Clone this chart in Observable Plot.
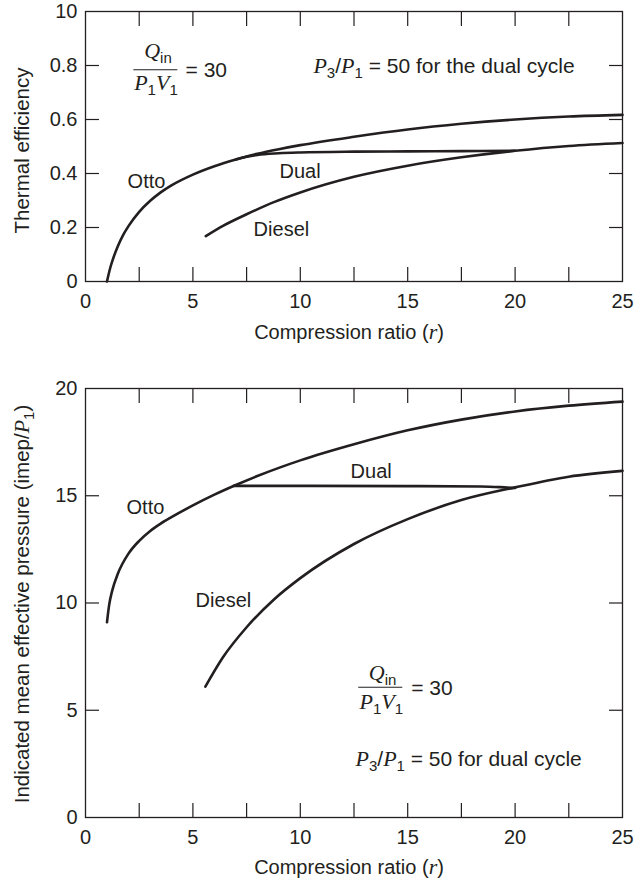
<!DOCTYPE html>
<html>
<head>
<meta charset="utf-8">
<script src="https://cdn.jsdelivr.net/npm/d3@7"></script>
<script src="https://cdn.jsdelivr.net/npm/@observablehq/plot@0.6"></script>
<style>
  html, body { margin: 0; padding: 0; background: #fff; }
  #chart svg { display: block; overflow: visible; }
</style>
</head>
<body>
<div id="chart"></div>
<script>
// ---------- data ----------
const ink = "#231f20";

const xLabelTicks = [0, 5, 10, 15, 20, 25];
const xInnerTicks = [2.5, 5, 7.5, 10, 12.5, 15, 17.5, 20, 22.5];

const effTicks = [0, 0.2, 0.4, 0.6, 0.8, 1];
const effTickLabels = ["0", "0.2", "0.4", "0.6", "0.8", "10"];
const effInnerTicks = [0.2, 0.4, 0.6, 0.8];

const imepTicks = [0, 5, 10, 15, 20];
const imepTickLabels = ["0", "5", "10", "15", "20"];
const imepInnerTicks = [5, 10, 15];

// Thermal efficiency
const ottoEffR = [1, 1.15, 1.3, 1.5, 1.75, 2, 2.5, 3, 3.5, 4, 5, 6, 7, 8, 9, 10, 12.5, 15, 17.5, 20, 22.5, 25];
const ottoEff  = [0, 0.05, 0.088, 0.13, 0.172, 0.205, 0.258, 0.298, 0.33, 0.356, 0.396, 0.427, 0.452, 0.473, 0.49, 0.505, 0.536, 0.563, 0.584, 0.6, 0.611, 0.617];
const dualEffR = [7, 7.5, 8, 9, 10, 12.5, 15, 17.5, 20];
const dualEff  = [0.452, 0.462, 0.469, 0.475, 0.478, 0.481, 0.482, 0.483, 0.484];
const dieselEffR = [5.6, 6.4, 7.5, 8.8, 10, 12.5, 15, 17.5, 20, 22.5, 25];
const dieselEff  = [0.168, 0.206, 0.249, 0.295, 0.33, 0.388, 0.429, 0.46, 0.484, 0.502, 0.513];

// Indicated mean effective pressure (imep/P1)
const ottoImepR = [1, 1.1, 1.25, 1.5, 2, 2.5, 3, 3.5, 4, 5, 6, 7, 8, 9, 10, 12.5, 15, 17.5, 20, 22.5, 25];
const ottoImep  = [9.1, 9.9, 10.6, 11.35, 12.3, 12.9, 13.35, 13.7, 14.0, 14.55, 15.05, 15.5, 15.92, 16.3, 16.65, 17.4, 18.05, 18.55, 18.93, 19.2, 19.39];
const dualImepR = [6.9, 10, 15, 18.4, 19.3, 20];
const dualImep  = [15.46, 15.46, 15.45, 15.43, 15.4, 15.36];
const dieselImepR = [5.58, 6.4, 7.5, 8.8, 10, 12.5, 15, 17.5, 20, 22.5, 25];
const dieselImep  = [6.1, 7.47, 8.87, 10.19, 11.16, 12.75, 13.91, 14.8, 15.39, 15.89, 16.16];

// curve labels and notes (data coordinates)
const effCurveLabels = [
  {t: "Otto", x: 2.84, y: 0.348},
  {t: "Dual", x: 9.99, y: 0.385},
  {t: "Diesel", x: 9.12, y: 0.170}
];
const effNotesCentered = [
  {t: "Qin", x: 3.375, y: 0.829},
  {t: "P1V1", x: 3.28, y: 0.708}
];
const effNotesStart = [
  {t: "= 30", x: 4.66, y: 0.759},
  {t: "P3/P1 = 50 for the dual cycle", x: 10.61, y: 0.771}
];
const effBars = [{y: 0.784, x1: 2.25, x2: 4.3}];

const imepCurveLabels = [
  {t: "Otto", x: 2.79, y: 14.17},
  {t: "Dual", x: 13.3, y: 15.84},
  {t: "Diesel", x: 6.42, y: 9.83}
];
const imepNotesCentered = [
  {t: "Qin", x: 13.83, y: 6.43},
  {t: "P1V1", x: 13.77, y: 5.07}
];
const imepNotesStart = [
  {t: "= 30", x: 15.16, y: 5.73},
  {t: "P3/P1 = 50 for dual cycle", x: 12.57, y: 2.42}
];
const imepBars = [{y: 6.07, x1: 12.72, x2: 14.77}];

const xTitle = "Compression ratio (r)";
const effTitle = "Thermal efficiency";
const imepTitle = "Indicated mean effective pressure (imep/P1)";

// rich-text specs: [text, kind]
const rich = {
  "Compression ratio (r)": [["Compression ratio ("], ["r", "it"], [")"]],
  "Indicated mean effective pressure (imep/P1)": [["Indicated mean effective pressure (imep/"], ["P", "it"], ["1", "sub"], [")"]],
  "Qin": [["Q", "it"], ["in", "sub"]],
  "P1V1": [["P", "it"], ["1", "sub"], ["V", "it"], ["1", "sub"]],
  "P3/P1 = 50 for the dual cycle": [["P", "it"], ["3", "sub"], ["/"], ["P", "it"], ["1", "sub"], [" = 50 for the dual cycle"]],
  "P3/P1 = 50 for dual cycle": [["P", "it"], ["3", "sub"], ["/"], ["P", "it"], ["1", "sub"], [" = 50 for dual cycle"]]
};

// ---------- drawing ----------
const SANS = "'Liberation Sans', Arial, Helvetica, sans-serif";
const SERIF = "'Liberation Serif', 'Times New Roman', serif";
const FS = 20;
const NFS = 21;
const TFS = 20.5;

const toRows = (rs, vs) => rs.map((r, i) => ({r, v: vs[i]}));

function chart(o) {
  return Plot.plot({
    width: 642,
    height: o.height,
    marginLeft: 85,
    marginRight: 20,
    marginTop: o.marginTop,
    marginBottom: o.marginBottom,
    style: {fontFamily: SANS, fontSize: FS + "px", color: ink, background: "#fff", overflow: "visible"},
    x: {domain: [0, 25], label: null},
    y: {domain: o.yDomain, label: null},
    marks: [
      Plot.frame({stroke: ink, strokeWidth: 1.3}),
      Plot.axisX(xInnerTicks, {anchor: "bottom", tickSize: -14, tickFormat: () => "", label: null, strokeWidth: 1.2}),
      Plot.axisX(xInnerTicks, {anchor: "top", tickSize: -14, tickFormat: () => "", label: null, strokeWidth: 1.2}),
      Plot.axisY(o.yInner, {anchor: "left", tickSize: -14, tickFormat: () => "", label: null, strokeWidth: 1.2}),
      Plot.axisY(o.yInner, {anchor: "right", tickSize: -14, tickFormat: () => "", label: null, strokeWidth: 1.2}),
      Plot.axisX(xLabelTicks, {anchor: "bottom", tickSize: 0, tickPadding: 12, label: null, fontSize: FS, tickFormat: d => String(d)}),
      Plot.axisY(o.yTicks, {anchor: "left", tickSize: 0, tickPadding: 8, label: null, fontSize: FS,
        tickFormat: d => o.yTickLabels[o.yTicks.indexOf(d)]}),
      ...o.series.map(s => Plot.line(s, {x: "r", y: "v", curve: "monotone-x", stroke: ink, strokeWidth: 2.6})),
      Plot.text(o.labels, {x: "x", y: "y", text: "t", lineAnchor: "bottom", textAnchor: "middle", fontSize: FS, fill: ink}),
      Plot.text(o.notesC, {x: "x", y: "y", text: "t", lineAnchor: "bottom", textAnchor: "middle", fontSize: NFS, fill: ink}),
      Plot.text(o.notesS, {x: "x", y: "y", text: "t", lineAnchor: "bottom", textAnchor: "start", fontSize: NFS, fill: ink}),
      Plot.ruleY(o.bars, {y: "y", x1: "x1", x2: "x2", stroke: ink, strokeWidth: 1.1}),
      Plot.text([xTitle], {frameAnchor: "bottom", text: d => d, dy: o.xTitleDy, dx: -5, lineAnchor: "bottom", textAnchor: "middle", fontSize: FS, fill: ink}),
      Plot.text([o.yTitle], {frameAnchor: "left", text: d => d, rotate: -90, dx: -63, dy: o.yTitleDy, lineAnchor: "middle", textAnchor: "middle", fontSize: TFS, fill: ink})
    ]
  });
}

function richify(svg) {
  d3.select(svg).selectAll("text").each(function () {
    const spec = rich[this.textContent];
    if (!spec) return;
    const sel = d3.select(this);
    sel.text(null);
    let shift = 0;
    for (const [s, kind] of spec) {
      const ts = sel.append("tspan").text(s);
      const target = kind === "sub" ? 5 : 0;
      if (target !== shift) { ts.attr("dy", target - shift); shift = target; }
      if (kind === "sub") ts.attr("font-size", 15);
      if (kind === "it") ts.attr("font-family", SERIF).attr("font-style", "italic").attr("font-size", 22);
    }
  });
}

const effChart = chart({
  height: 350, marginTop: 11, marginBottom: 69,
  yDomain: [0, 1], yTicks: effTicks, yTickLabels: effTickLabels, yInner: effInnerTicks,
  series: [toRows(ottoEffR, ottoEff), toRows(dualEffR, dualEff), toRows(dieselEffR, dieselEff)],
  labels: effCurveLabels, notesC: effNotesCentered, notesS: effNotesStart, bars: effBars,
  yTitle: effTitle, yTitleDy: 4, xTitleDy: 57
});
const imepChart = chart({
  height: 531, marginTop: 38, marginBottom: 64,
  yDomain: [0, 20], yTicks: imepTicks, yTickLabels: imepTickLabels, yInner: imepInnerTicks,
  series: [toRows(ottoImepR, ottoImep), toRows(dualImepR, dualImep), toRows(dieselImepR, dieselImep)],
  labels: imepCurveLabels, notesC: imepNotesCentered, notesS: imepNotesStart, bars: imepBars,
  yTitle: imepTitle, yTitleDy: 1, xTitleDy: 56
});
richify(effChart);
richify(imepChart);
document.getElementById("chart").append(effChart, imepChart);
</script>
</body>
</html>
